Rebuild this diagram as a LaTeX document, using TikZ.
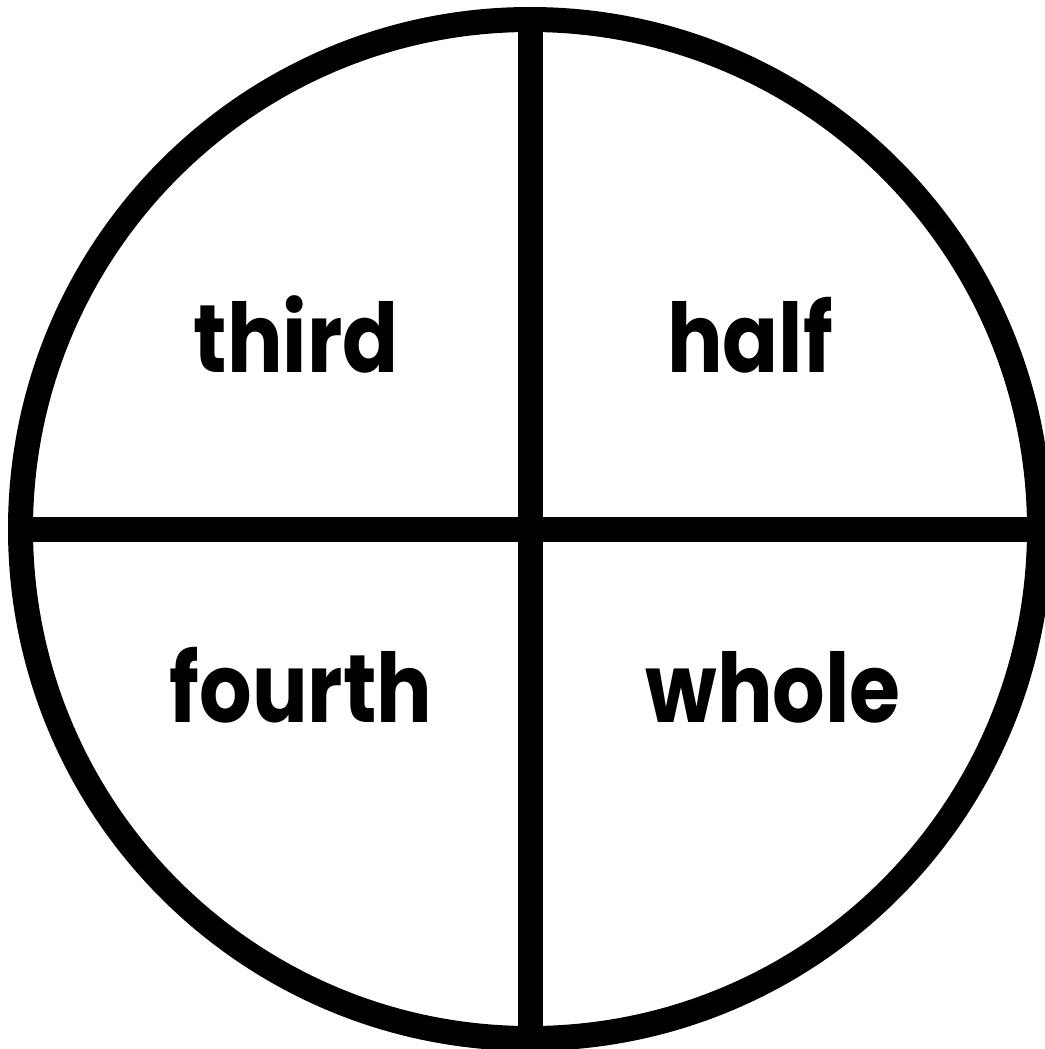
\documentclass[tikz,border=0pt]{standalone}
\usepackage{fontspec}
\setmainfont{Poppins}
\newfontfamily\wordfont{Poppins}[FakeStretch=0.86]
\begin{document}
\begin{tikzpicture}[x=1pt,y=-1pt,
  rim/.style={circle,draw=black,line width=25pt,minimum size=1019pt,inner sep=0pt},
  divider/.style={line width=25pt,draw=black},
  word/.style={anchor=base,inner sep=0pt,font=\wordfont\fontsize{96}{100}\selectfont\bfseries}]
\useasboundingbox (0,0) rectangle (1044,1049);
\fill[white] (0,0) rectangle (1044,1049);
\node[rim] (c) at (530,529) {};
\draw[divider] (c.north) -- (c.south);
\draw[divider] (c.west) -- (c.east);
\node[word] (third) at (296,372) {third};
\node[word] (half) at (750,372) {half};
\node[word] (fourth) at (301,722) {fourth};
\node[word] (whole) at (773,722) {whole};
\end{tikzpicture}
\end{document}
